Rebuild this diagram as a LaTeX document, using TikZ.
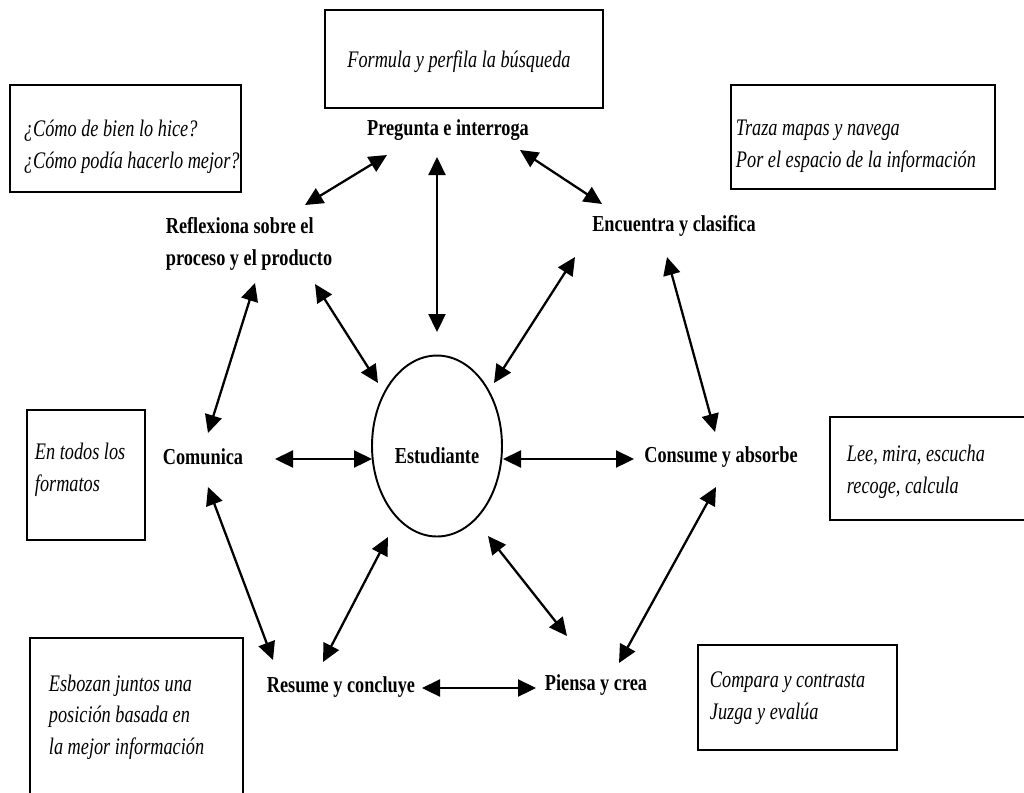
\documentclass[tikz,border=0pt]{standalone}
\usepackage{fontspec}
\setmainfont{Liberation Serif}[UprightFeatures={FakeStretch=0.8}, BoldFeatures={FakeStretch=0.8}, ItalicFeatures={FakeStretch=0.77}]
\usetikzlibrary{calc,arrows.meta,shapes.geometric}

\tikzset{
	lbl/.style={font=\fontsize{13}{18}\selectfont\bfseries, align=flush left, inner sep=2pt},
	note/.style={draw, line width=1.6pt, inner sep=0pt},
	notetxt/.style={font=\fontsize{13.5}{18}\selectfont\itshape, align=flush left, inner sep=0pt, anchor=west},
	link/.style={<->, >={Triangle[length=0.36cm,width=0.34cm]}, line width=1.3pt},
}

\begin{document}
\begin{tikzpicture}[x=0.02cm, y=-0.02cm]
		%%%%% START %%%%%
		\useasboundingbox (0, 0) rectangle (1024, 792);
		\clip (0, 0) rectangle (1024, 792);
		
		% boxes round the outside
		\node[note, minimum width=5.56cm, minimum height=1.96cm] (busq) at (464, 59) {};
		\node[note, minimum width=4.62cm, minimum height=2.14cm] (autoev) at (125.5, 138.5) {};
		\node[note, minimum width=5.28cm, minimum height=2.08cm] (navega) at (863, 137) {};
		\node[note, minimum width=2.36cm, minimum height=2.6cm] (formatos) at (86, 475) {};
		\node[note, minimum width=4.0cm, minimum height=2.06cm] (lee) at (930, 468.5) {};
		\node[note, minimum width=4.26cm, minimum height=3.24cm] (esboza) at (136.5, 719) {};
		\node[note, minimum width=3.98cm, minimum height=2.1cm] (juzga) at (797.5, 697.5) {};
		
		\node[notetxt, anchor=center] (busqtxt) at ($(busq)+(-5,3)$) {Formula y perfila la búsqueda};
		\node[notetxt] (autoevtxt) at ($(autoev.west)+(15,8)$) {¿Cómo de bien lo hice?\\¿Cómo podía hacerlo mejor?};
		\node[notetxt] (navegatxt) at ($(navega.west)+(6,9)$) {Traza mapas y navega\\Por el espacio de la información};
		\node[notetxt] (formatostxt) at ($(formatos.west)+(9,-5)$) {En todos los\\formatos};
		\node[notetxt] (leetxt) at ($(lee.west)+(18,3)$) {Lee, mira, escucha\\recoge, calcula};
		\node[notetxt] (esbozatxt) at ($(esboza.west)+(20,-2)$) {Esbozan juntos una\\posición basada en\\la mejor información};
		\node[notetxt] (juzgatxt) at ($(juzga.west)+(13,1)$) {Compara y contrasta\\Juzga y evalúa};
		
		% the student and the steps round him
		\node[lbl, ellipse, draw, line width=1.1pt, minimum width=2.6cm, minimum height=3.62cm, inner sep=0pt] (est) at (437, 446) {\raisebox{-0.34cm}[0pt][0pt]{Estudiante}};
		
		\node[lbl] (preg) at (448, 130) {Pregunta e interroga};
		\node[lbl] (refl) at (249, 244) {Reflexiona sobre el\\proceso y el producto};
		\node[lbl] (encu) at (674, 226) {Encuentra y clasifica};
		\node[lbl] (comu) at (203, 457) {Comunica};
		\node[lbl] (cons) at (721, 457) {Consume y absorbe};
		\node[lbl] (resu) at (341, 687) {Resume y concluye};
		\node[lbl] (pien) at (596, 685) {Piensa y crea};
		
		% arrows
		\draw[link] ($(preg)+(-61,25)$) -- ($(refl)+(56,-39)$);
		\draw[link] ($(preg)+(72,20)$) -- ($(encu)+(-72,-22)$);
		\draw[link] ($(preg)+(-11,27)$) -- ($(est)+(0,-114)$);
		\draw[link] ($(refl)+(6,39)$) -- ($(comu)+(5,-24)$);
		\draw[link] ($(refl)+(66,40)$) -- ($(est)+(-59,-63)$);
		\draw[link] ($(encu)+(-99,31)$) -- ($(est)+(57,-63)$);
		\draw[link] ($(encu)+(-7,31)$) -- ($(cons)+(-6,-25)$);
		\draw[link] ($(comu)+(72,2)$) -- ($(est)+(-65,13)$);
		\draw[link] ($(est)+(66,13)$) -- ($(cons)+(-87,2)$);
		\draw[link] ($(comu)+(5,30)$) -- ($(resu)+(-68,-27)$);
		\draw[link] ($(est)+(-49,91)$) -- ($(resu)+(-18,-25)$);
		\draw[link] ($(est)+(51,90)$) -- ($(pien)+(-29,-49)$);
		\draw[link] ($(cons)+(-5,30)$) -- ($(pien)+(23,-22)$);
		\draw[link] ($(resu)+(81,1)$) -- ($(pien)+(-60,3)$);
		
		%%%%% END %%%%%
\end{tikzpicture}
\end{document}
